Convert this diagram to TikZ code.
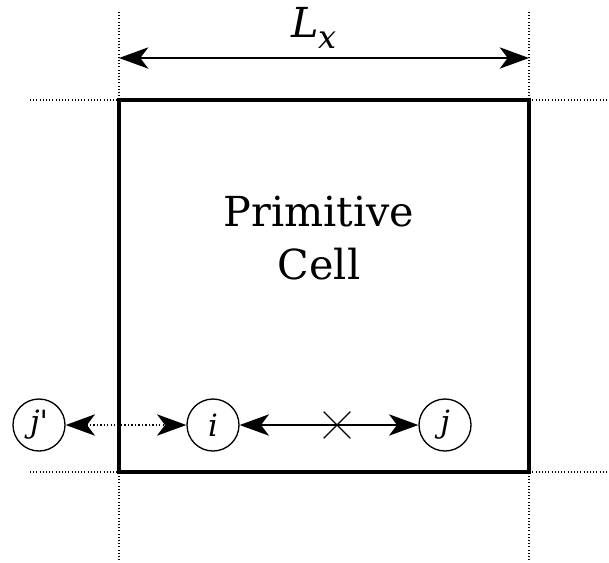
\documentclass[tikz,border=0pt]{standalone}
\usepackage{fontspec}
\setmainfont{DejaVu Serif}
\usepackage{tikz}
\usetikzlibrary{positioning, arrows.meta, calc, shapes.misc}

\begin{document}
\begin{tikzpicture}[x=0.75pt, y=-0.75pt,
    site/.style={circle, draw, line width=1pt, minimum size=39pt, inner sep=0pt,
                 font=\fontsize{23}{26}\selectfont\itshape},
    guide/.style={line width=0.8pt, dash pattern=on 0.8pt off 1.6pt},
    tip/.tip={Stealth[length=22pt, width=16pt, inset=6pt]},
    link/.style={line width=1.3pt, tip-tip}]
  \useasboundingbox (0,0) rectangle (609,562);

  % cell and its periodic images
  \coordinate (nw) at (119,100);
  \coordinate (se) at (529,472);
  \draw[guide] (119,12) -- (119,562);
  \draw[guide] (529,12) -- (529,562);
  \draw[guide] (30,100) -- (609,100);
  \draw[guide] (30,472) -- (609,472);
  \draw[line width=3.3pt] (nw) rectangle (se);

  \node[font=\fontsize{31}{40}\selectfont, align=center] (cell) at (319,238) {Primitive\\Cell};

  % box length
  \coordinate (lxa) at (119,58);
  \coordinate (lxb) at (529,58);
  \draw[link] (lxa) -- (lxb);
  \node[font=\fontsize{31}{34}\selectfont\itshape] (lx) at (314,28) {L\kern-1pt\raisebox{-8pt}{\fontsize{24}{26}\selectfont x}};

  % sites
  \node[site] (i) at (213,425) {i};
  \node[site] (j) at (445,425) {j};
  \node[site] (jp) at (39,425) {j\upshape\textquotesingle};

  \draw[link] (i) -- (j);
  \draw[link, dash pattern=on 1pt off 1.6pt] (jp) -- (i);
  \node[cross out, draw, line width=1pt, minimum size=19pt, inner sep=0pt] (cross) at (337,425) {};
\end{tikzpicture}
\end{document}
